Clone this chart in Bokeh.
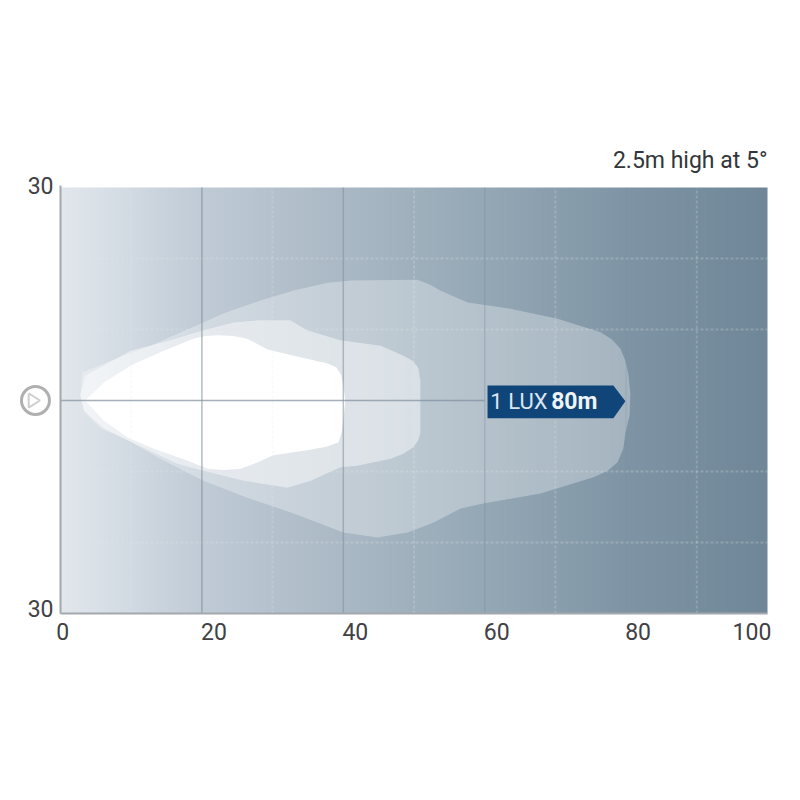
import numpy as np
from bokeh.plotting import figure
from bokeh.models import Range1d, FixedTicker
from bokeh.core.properties import value
from bokeh.embed import file_html
from bokeh.resources import INLINE

FONT = "Roboto"

x_tick_pos = [0.3, 21.7, 41.7, 61.7, 81.7, 97.8]
x_tick_labels = ["0", "20", "40", "60", "80", "100"]
y_tick_pos = [30.3, -29.3]
y_tick_labels = ["30", "30"]
major_x = [20, 40, 60, 80]
major_alpha = [0.6, 0.55, 0.35, 0.2]
minor_x = [10, 30, 50, 70, 90]
minor_y = [-20, -10, 10, 20]

outer_x = [3.1, 7.1, 12.7, 19.8, 23.1, 28.3, 33.0, 37.8, 41.0, 50.5, 52.3, 53.7, 57.6, 63.2, 70.3, 76.4, 78.0, 79.2, 79.9, 80.3, 80.6, 80.5,
           79.9, 79.6, 78.8, 77.4, 75.4, 67.9, 59.8, 56.6, 52.8, 49.1, 44.8, 40.0, 33.0, 26.4, 20.2, 14.1, 9.5, 5.7, 3.4, 2.8]
outer_y = [3.9, 5.6, 7.7, 10.8, 12.3, 14.1, 15.5, 16.6, 16.9, 17.0, 16.3, 15.5, 13.8, 13.0, 11.5, 9.6, 8.6, 7.3, 5.6, 3.8, 1.0, -2.1,
           -4.6, -6.8, -8.7, -9.9, -10.8, -13.1, -14.5, -15.2, -17.2, -18.6, -19.3, -18.6, -15.9, -13.7, -11.3, -8.2, -5.6, -3.9, -1.7, 0.7]
mid_x = [2.8, 3.5, 9.9, 15.6, 20.2, 24.5, 28.0, 32.5, 34.9, 39.6, 45.3, 48.5, 49.8, 50.6, 50.9, 50.9, 50.9, 50.6, 49.9, 48.5, 46.7, 42.0,
         39.6, 35.4, 32.1, 25.9, 20.2, 16.5, 9.5, 6.1, 3.3]
mid_y = [0.7, 3.5, 7.0, 8.5, 9.9, 11.0, 11.3, 11.3, 9.9, 8.5, 7.7, 6.3, 5.6, 4.6, 2.8, -2.1, -4.6, -5.6, -6.6, -7.5, -8.2, -9.2,
         -9.4, -11.3, -12.3, -11.3, -9.9, -8.9, -5.6, -3.9, -1.4]
core_x = [3.5, 6.1, 9.9, 14.1, 18.8, 20.5, 22.2, 24.4, 26.4, 29.3, 33.0, 37.8, 39.0, 39.7, 40.0, 40.3, 40.0, 39.8, 39.3, 37.6, 34.9, 30.1, 27.9,
          25.5, 23.0, 20.8, 18.0, 13.2, 9.5, 6.1]
core_y = [0.0, 2.5, 4.9, 6.8, 8.7, 9.1, 9.2, 9.1, 8.7, 7.2, 6.3, 5.2, 4.7, 3.6, 2.1, 0.0, -2.8, -4.4, -5.9, -6.5, -7.0, -7.7, -8.7,
          -9.6, -9.8, -9.6, -8.5, -6.8, -5.2, -2.8]
badge_x = [60.4, 78.2, 79.9, 78.2, 60.4]
badge_y = [2.1, 2.1, -0.1, -2.5, -2.5]

grad_x = [0, 5, 20, 40, 60, 80, 100]
grad_r = [226, 218, 192, 170, 149, 127, 111]
grad_g = [231, 225, 203, 185, 168, 149, 135]
grad_b = [236, 232, 214, 197, 182, 165, 152]

# The frame covers the icon, heading and tick labels too, since everything is clipped to it;
# the axes are bounded to the plot area.
p = figure(width=784, height=700, frame_width=784, frame_height=700,
           x_range=Range1d(-60 / 7.07, 100 + 17 / 7.07 + 0.0), y_range=Range1d(-30 - 87 / 7.1, 30 + 187 / 7.1),
           output_backend="svg", toolbar_location=None,
           min_border_left=0, min_border_top=0, min_border_right=0, min_border_bottom=0)
p.grid.visible = False
p.outline_line_color = None
p.background_fill_color = None

xs = np.linspace(0, 100, 707)
img = np.zeros((1, 707), dtype=np.uint32)
view = img.view(np.uint8).reshape((1, 707, 4))
view[0, :, 0] = np.interp(xs, grad_x, grad_r)
view[0, :, 1] = np.interp(xs, grad_x, grad_g)
view[0, :, 2] = np.interp(xs, grad_x, grad_b)
view[0, :, 3] = 255
p.image_rgba(image=[img], x=0, y=-30, dw=100, dh=60)

p.patch(outer_x, outer_y, fill_color="white", fill_alpha=0.3, line_color=None)
p.patch(mid_x, mid_y, fill_color="white", fill_alpha=0.45, line_color=None)
p.patch(core_x, core_y, fill_color="white", fill_alpha=1.0, line_color=None)

p.segment(minor_x, [-30]*5, minor_x, [30]*5, line_color="#e3e8ec", line_alpha=0.22, line_width=2, line_dash="3 2")
p.segment([0]*4, minor_y, [100]*4, minor_y, line_color="#e3e8ec", line_alpha=0.25, line_width=2, line_dash="3 2")
p.segment(major_x, [-30]*4, major_x, [30]*4, line_color="#7f8f9e", line_alpha=major_alpha, line_width=1.5)
p.segment([0], [0], [60], [0], line_color="#7f8f9e", line_alpha=0.7, line_width=1.5)

p.patch(badge_x, badge_y, fill_color="#0f4579", line_color=None)

for ax, pos, labs in ((p.xaxis[0], x_tick_pos, x_tick_labels), (p.yaxis[0], y_tick_pos, y_tick_labels)):
    ax.ticker = FixedTicker(ticks=pos)
    ax.major_label_overrides = dict(zip(pos, labs))
    ax.major_tick_line_color = None
    ax.major_tick_out = 0
    ax.major_tick_in = 0
    ax.minor_tick_line_color = None
    ax.axis_line_color = "#a3a8ad"
    ax.axis_line_width = 2
    ax.major_label_text_font = FONT
    ax.major_label_text_font_size = "23px"
    ax.major_label_text_color = "#3f4145"
p.xaxis[0].major_label_standoff = 9
p.yaxis[0].major_label_standoff = 7
p.xaxis[0].bounds = (0, 100)
p.yaxis[0].bounds = (-30, 30.3)
p.yaxis[0].fixed_location = 0
p.xaxis[0].fixed_location = -30

p.text(x=[100], y=[33.8], text=["2.5m high at 5°"], text_align="right", text_baseline="middle",
       text_font=value(FONT), text_font_size="23px", text_color="#33363a")
p.text(x=[60.8], y=[-0.2], text=["1 LUX"], text_align="left", text_baseline="middle",
       text_font=value(FONT), text_font_size="22px", text_color="#dce6ee")
p.text(x=[69.4], y=[-0.2], text=["80m"], text_align="left", text_baseline="middle",
       text_font=value(FONT), text_font_size="23px", text_font_style="bold", text_color="#eef3f7")

# sensor icon left of the plot
p.scatter(x=[-3.54], y=[0], size=28, marker="circle", fill_color=None, line_color="#b0b0b0", line_width=3)
p.line(x=[-4.5, -2.9, -4.5, -4.5], y=[1.0, 0.0, -1.0, 1.0], line_color="#cfcfcf", line_width=2)

open("out.html", "w").write(file_html(p, INLINE))
